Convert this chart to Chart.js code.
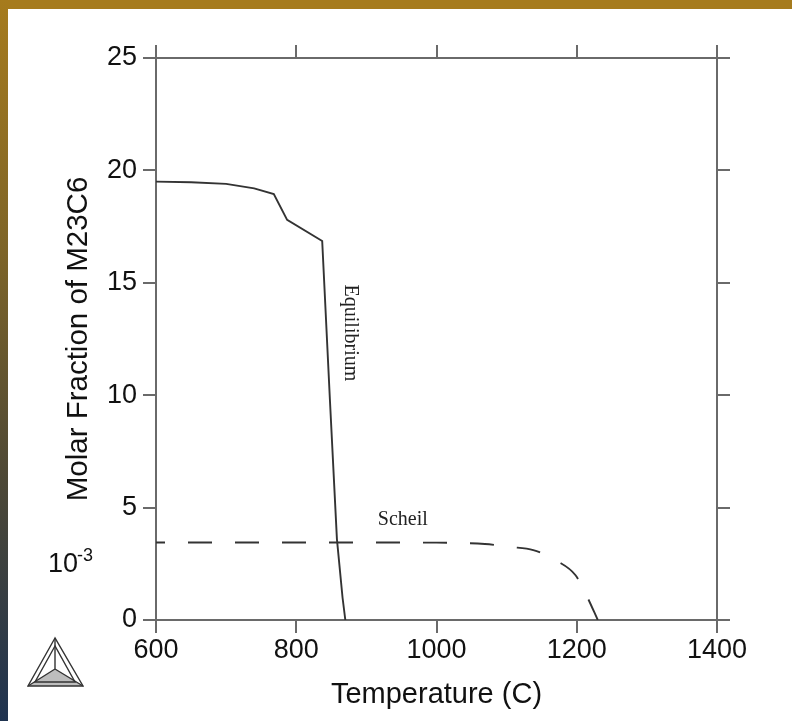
<!DOCTYPE html>
<html>
<head>
<meta charset="utf-8">
<script src="https://cdn.jsdelivr.net/npm/chart.js@4"></script>
<style>
  body { margin: 0; background: #fff; }
  #wrap { position: relative; width: 792px; height: 721px; background: #fff; overflow: hidden; }
  #topband { position: absolute; left: 0; top: 0; width: 792px; height: 9px; background: #a67b1d; }
  #leftband { position: absolute; left: 0; top: 0; width: 8px; height: 721px;
    background: linear-gradient(to bottom, #a67b1d 0%, #7d6428 35%, #4f4935 65%, #1f3350 100%); }
  #chart { position: absolute; left: 0; top: 0; }
</style>
</head>
<body>
<div id="wrap">
  <div id="topband"></div>
  <div id="leftband"></div>
  <canvas id="chart" width="792" height="721"></canvas>
</div>
<script>
// values (fraction x 10^-3)
const eqTemp = [600, 650, 700, 740, 768, 787, 837, 848, 858, 866, 870];
const eqFrac = [19.5, 19.47, 19.4, 19.2, 18.95, 17.8, 16.86, 9.8, 3.6, 1.0, 0];
const scheilTemp = [600, 800, 1000, 1069, 1105, 1138, 1172, 1198, 1215, 1230];
const scheilFrac = [3.45, 3.45, 3.44, 3.38, 3.25, 3.11, 2.62, 2.0, 1.02, 0];

const xTicks = [600, 800, 1000, 1200, 1400];
const yTicks = [0, 5, 10, 15, 20, 25];

const axisColor = '#6a6a6a';
const textColor = '#111';

function pts(xs, ys) {
    return xs.map((x, i) => ({x: x, y: ys[i]}));
}

function axisOpts(position, min, max, step, showLabels, size) {
    return {
        type: 'linear',
        position: position,
        min: min,
        max: max,
        ticks: {
            display: showLabels,
            stepSize: step,
            color: textColor,
            font: {family: 'Liberation Sans', size: 27},
            padding: position === 'left' ? 6 : 1,
            callback: v => String(v)
        },
        grid: {
            drawOnChartArea: false,
            drawTicks: true,
            tickLength: 13,
            color: axisColor,
            lineWidth: 2
        },
        border: {display: true, color: axisColor, width: 2},
        afterFit: function(scale) {
            if (scale.isHorizontal()) scale.height = size;
            else scale.width = size;
        }
    };
}

// labels, unit multiplier and logo
const extras = {
    id: 'extras',
    afterDraw(chart) {
        const ctx = chart.ctx;
        const xs = chart.scales.x, ys = chart.scales.y;
        ctx.save();
        ctx.fillStyle = '#222';
        ctx.font = '20px "Liberation Serif"';
        ctx.textAlign = 'center';
        ctx.textBaseline = 'middle';
        ctx.fillText('Scheil', xs.getPixelForValue(952), ys.getPixelForValue(4.45));

        ctx.save();
        ctx.translate(xs.getPixelForValue(877), ys.getPixelForValue(12.77));
        ctx.rotate(Math.PI / 2);
        ctx.fillText('Equilibrium', 0, 0);
        ctx.restore();

        // 10^-3
        ctx.fillStyle = textColor;
        ctx.textAlign = 'left';
        ctx.textBaseline = 'alphabetic';
        ctx.font = '27px "Liberation Sans"';
        ctx.fillText('10', 48, 572);
        ctx.font = '18px "Liberation Sans"';
        ctx.fillText('-3', 77, 561);

        // logo
        ctx.strokeStyle = '#333';
        ctx.lineWidth = 1.4;
        const A = [55, 638], B = [28, 686], C = [83, 686], M = [55, 669];
        ctx.fillStyle = '#bdbdbd';
        ctx.beginPath();
        ctx.moveTo(B[0], B[1]); ctx.lineTo(C[0], C[1]); ctx.lineTo(M[0], M[1]); ctx.closePath();
        ctx.fill();
        ctx.beginPath();
        ctx.moveTo(A[0], A[1]); ctx.lineTo(B[0], B[1]); ctx.lineTo(C[0], C[1]); ctx.closePath();
        ctx.stroke();
        ctx.beginPath();
        ctx.moveTo(55, 646); ctx.lineTo(35, 682); ctx.lineTo(75, 682); ctx.closePath();
        ctx.stroke();
        ctx.beginPath();
        [A, B, C].forEach(p => { ctx.moveTo(M[0], M[1]); ctx.lineTo(p[0], p[1]); });
        ctx.stroke();
        ctx.restore();
    }
};

new Chart(document.getElementById('chart'), {
    type: 'scatter',
    data: {
        datasets: [
            {
                label: 'Equilibrium',
                data: pts(eqTemp, eqFrac),
                showLine: true,
                borderColor: '#333',
                borderWidth: 1.9,
                pointRadius: 0,
                tension: 0
            },
            {
                label: 'Scheil',
                data: pts(scheilTemp, scheilFrac),
                showLine: true,
                borderColor: '#333',
                borderWidth: 1.9,
                borderDash: [24, 23],
                borderDashOffset: 15,
                pointRadius: 0,
                cubicInterpolationMode: 'monotone'
            }
        ]
    },
    options: {
        responsive: false,
        animation: false,
        layout: {padding: 0},
        plugins: {legend: {display: false}, tooltip: {enabled: false}},
        scales: {
            x: Object.assign(axisOpts('bottom', 600, 1400, 200, true, 101), {
                title: {
                    display: true, text: 'Temperature (C)', color: textColor,
                    font: {family: 'Liberation Sans', size: 29},
                    padding: {top: 0, bottom: 9}
                }
            }),
            y: Object.assign(axisOpts('left', 0, 25, 5, true, 156), {
                title: {
                    display: true, text: 'Molar Fraction of M23C6', color: textColor,
                    font: {family: 'Liberation Sans', size: 29.5},
                    padding: {top: 61, bottom: 0}
                }
            }),
            x2: axisOpts('top', 600, 1400, 200, false, 58),
            y2: axisOpts('right', 0, 25, 5, false, 75)
        }
    },
    plugins: [extras]
});
</script>
</body>
</html>
